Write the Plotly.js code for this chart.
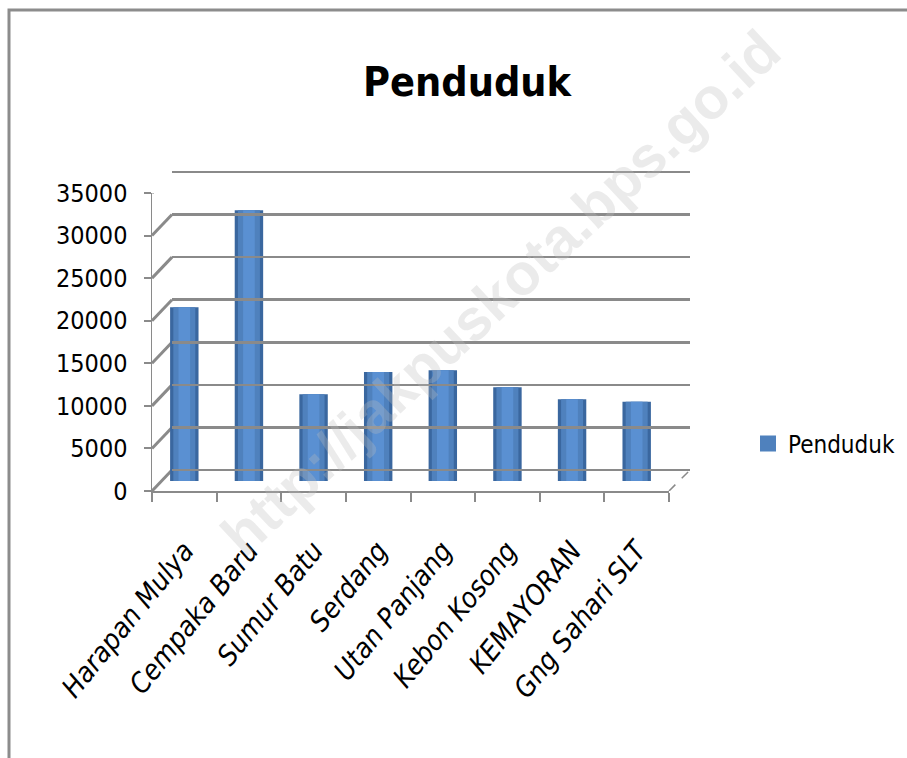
<!DOCTYPE html>
<html>
<head>
<meta charset="utf-8">
<script src="https://cdn.plot.ly/plotly-3.0.1.min.js"></script>
<style>html,body{margin:0;padding:0;background:#fff;}#chart{width:907px;height:758px;}</style>
</head>
<body>
<div id="chart"></div>
<script>
var categories = ["Harapan Mulya", "Cempaka Baru", "Sumur Batu", "Serdang", "Utan Panjang", "Kebon Kosong", "KEMAYORAN", "Gng Sahari SLT"];
var penduduk = [20400, 31800, 10200, 12800, 13000, 11000, 9600, 9300];
var yTicks = [0, 5000, 10000, 15000, 20000, 25000, 30000, 35000];
var seriesName = "Penduduk";
var chartTitle = "Penduduk";
var watermark = "http://jakpuskota.bps.go.id";

var FONT = "'DejaVu Sans Condensed', 'Liberation Sans Narrow', sans-serif";
var GRID = "#8a8a8a";

var traces = [
  {type: "bar", x: categories, y: penduduk, xaxis: "x2", yaxis: "y2", width: 0.44,
   marker: {color: "#3a679f"}, showlegend: false, hoverinfo: "skip"},
  {type: "bar", x: categories, y: penduduk, xaxis: "x2", yaxis: "y2", width: 0.34,
   marker: {color: "#4F81BD"}, showlegend: false},
  {type: "bar", x: categories, y: penduduk, xaxis: "x2", yaxis: "y2", width: 0.18,
   marker: {color: "#5a90d2"}, showlegend: false, hoverinfo: "skip"},
  {type: "scatter", x: [null], y: [null], xaxis: "x2", yaxis: "y2", mode: "markers", name: seriesName,
   marker: {symbol: "square", size: 17, color: "#4F81BD"}, showlegend: true},
  {type: "scatter", x: [0], y: [0], xaxis: "x3", yaxis: "y3", mode: "none", showlegend: false, hoverinfo: "skip"},
  {type: "scatter", x: categories, y: penduduk.map(function(){return null;}), xaxis: "x", yaxis: "y", mode: "none", showlegend: false, hoverinfo: "skip"}
];

// depth offset (in data units of the front axis) for the 3D wall lines
var depth = 2466;
var shapes = [];
yTicks.forEach(function(v){
  shapes.push({type: "line", xref: "paper", yref: "y", x0: 152/907, x1: 172/907, y0: v, y1: v + depth,
    line: {color: GRID, width: 3}, layer: "below"});
});
shapes.push({type: "line", xref: "paper", yref: "y", x0: 669/907, x1: 690/907, y0: 0, y1: depth,
  line: {color: GRID, width: 1.5, dash: "dash"}, layer: "below"});
shapes.push({type: "rect", xref: "paper", yref: "paper", x0: 9/907, x1: 1.02, y0: -0.02, y1: (758-10)/758,
  line: {color: "#8c8c8c", width: 3}, fillcolor: "rgba(0,0,0,0)"});

var layout = {
  width: 907, height: 758,
  margin: {l: 0, r: 0, t: 0, b: 0},
  paper_bgcolor: "#ffffff", plot_bgcolor: "rgba(0,0,0,0)",
  barmode: "overlay",
  font: {family: FONT, color: "#000"},
  title: {text: chartTitle, font: {family: FONT, size: 41, weight: "bold", color: "#000"},
          x: 467/907, xanchor: "center", y: (758-82)/758, yanchor: "middle", xref: "paper", yref: "paper"},
  xaxis: {domain: [152/907, 669/907], anchor: "y", type: "category", range: [-0.5, 7.5],
          showline: true, linecolor: GRID, linewidth: 2, ticks: "outside", tickson: "boundaries",
          ticklen: 9, tickcolor: GRID, tickwidth: 2, showgrid: false, tickangle: -51,
          tickfont: {family: FONT, size: 28, style: "italic", color: "#000"}, ticklabelstandoff: 30},
  yaxis: {domain: [(758-491)/758, (758-193)/758], anchor: "x", range: [0, 35000], tickvals: yTicks, tickformat: "d",
          showline: true, linecolor: GRID, linewidth: 1.5, ticks: "outside", ticklen: 7, tickcolor: GRID, tickwidth: 2,
          showgrid: false, zeroline: false, tickfont: {family: FONT, size: 25, color: "#000"}, ticklabelstandoff: 11},
  xaxis2: {domain: [162/907, 679/907], anchor: "y2", type: "category", range: [-0.5, 7.5], visible: false, overlaying: "x"},
  yaxis2: {domain: [(758-481)/758, (758-183)/758], anchor: "x2", range: [0, 35000], visible: false},
  xaxis3: {domain: [172/907, 690/907], anchor: "y3", range: [0, 1], visible: false},
  yaxis3: {domain: [(758-474.26)/758, (758-167.74)/758], anchor: "x3", range: [-500, 35500], tickvals: yTicks,
           showgrid: true, gridcolor: GRID, gridwidth: 2.5, zeroline: false, showticklabels: false, showline: false, ticks: ""},
  legend: {x: 748/907, xanchor: "left", y: (758-444)/758, yanchor: "middle", bgcolor: "rgba(0,0,0,0)",
           font: {family: FONT, size: 24, color: "#000"}, itemwidth: 30, itemsizing: "trace"},
  shapes: shapes,
  annotations: [{text: "<b>" + watermark + "</b>", xref: "paper", yref: "paper", x: 500/907, y: (758-292)/758,
                 xanchor: "center", yanchor: "middle", showarrow: false, textangle: -43,
                 font: {family: "'Liberation Sans', Arial, sans-serif", size: 58, color: "rgba(190,190,190,0.3)"}}]
};

Plotly.newPlot("chart", traces, layout, {displayModeBar: false, staticPlot: true});
</script>
</body>
</html>
